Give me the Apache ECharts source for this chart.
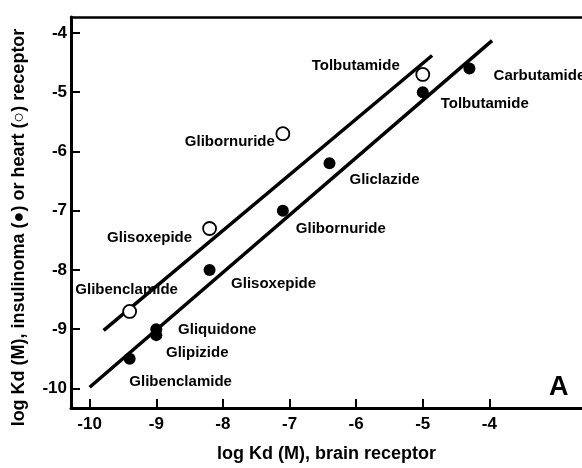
<!DOCTYPE html>
<html><head><meta charset="utf-8">
<script src="https://cdn.jsdelivr.net/npm/echarts@6/dist/echarts.min.js"></script>
<style>html,body{margin:0;padding:0;background:#fff}#c{width:582px;height:468px}</style>
</head><body><div id="c"></div>
<script>
// ---- data ----
const xTicks = [-10, -9, -8, -7, -6, -5, -4];
const yTicks = [-10, -9, -8, -7, -6, -5, -4];

const insulinomaNames = ['Glibenclamide', 'Gliquidone', 'Glipizide', 'Glisoxepide', 'Glibornuride', 'Gliclazide', 'Tolbutamide', 'Carbutamide'];
const insulinomaX = [-9.4, -9.0, -9.0, -8.2, -7.1, -6.4, -5.0, -4.3];
const insulinomaY = [-9.5, -9.0, -9.1, -8.0, -7.0, -6.2, -5.0, -4.6];

const heartNames = ['Glibenclamide', 'Glisoxepide', 'Glibornuride', 'Tolbutamide'];
const heartX = [-9.4, -8.2, -7.1, -5.0];
const heartY = [-8.7, -7.3, -5.7, -4.7];

const insulinomaFitX = [-10.0, -3.96];
const insulinomaFitY = [-9.98, -4.13];
const heartFitX = [-9.79, -4.86];
const heartFitY = [-9.02, -4.38];

// ---- label placement (style only) ----
const insulinomaLabelOffset = [[51, 23], [61, 1], [41, 18], [64, 14], [58, 18], [55, 17], [62, 12], [70, 7]];
const heartLabelOffset = [[-3, -22], [-60, 9], [-53, 8], [-67, -9]];

const FONT = 'Liberation Sans, Arial, Helvetica, sans-serif';
const chart = echarts.init(document.getElementById('c'), null, {renderer: 'canvas'});

function pts(names, xs, ys, offs) {
  return xs.map((x, i) => ({
    name: names[i],
    value: [x, ys[i]],
    label: {offset: offs[i]}
  }));
}
function line(xs, ys) { return xs.map((x, i) => [x, ys[i]]); }

const labelStyle = {
  show: true, position: 'inside', formatter: p => p.name,
  fontFamily: FONT, fontSize: 15, fontWeight: 'bold', color: '#000'
};

chart.setOption({
  animation: false,
  backgroundColor: '#fff',
  grid: {left: 71, right: 0, top: 17, bottom: 55},
  xAxis: [{
    type: 'value', min: -10.28, max: -2.61,
    axisLine: {show: true, lineStyle: {color: '#000', width: 3}},
    axisTick: {show: true, inside: true, length: 9, customValues: xTicks, lineStyle: {color: '#000', width: 2}},
    axisLabel: {customValues: xTicks, fontFamily: FONT, fontSize: 17, fontWeight: 'bold', color: '#000', margin: 8},
    splitLine: {show: false},
    name: 'log Kd (M), brain receptor', nameLocation: 'middle', nameGap: 37,
    nameTextStyle: {fontFamily: FONT, fontSize: 18, fontWeight: 'bold', color: '#000'}
  }, {
    type: 'value', position: 'top', min: -10.28, max: -2.61,
    axisLine: {show: true, lineStyle: {color: '#000', width: 2.5}},
    axisTick: {show: false}, axisLabel: {show: false}, splitLine: {show: false}
  }],
  yAxis: {
    type: 'value', min: -10.33, max: -3.73,
    axisLine: {show: true, lineStyle: {color: '#000', width: 3}},
    axisTick: {show: true, inside: true, length: 9, customValues: yTicks, lineStyle: {color: '#000', width: 2}},
    axisLabel: {customValues: yTicks, fontFamily: FONT, fontSize: 17, fontWeight: 'bold', color: '#000', margin: 4},
    splitLine: {show: false},
    name: 'log Kd (M), insulinoma (\u25CF) or heart (\u25CB) receptor', nameLocation: 'middle', nameGap: 43, nameRotate: 90,
    nameTextStyle: {fontFamily: FONT, fontSize: 18, fontWeight: 'bold', color: '#000', padding: [0, 30, 0, 0]}
  },
  series: [
    {type: 'line', data: line(heartFitX, heartFitY), symbol: 'none', lineStyle: {color: '#000', width: 3.5}, z: 2},
    {type: 'line', data: line(insulinomaFitX, insulinomaFitY), symbol: 'none', lineStyle: {color: '#000', width: 3.5}, z: 2},
    {type: 'scatter', data: pts(insulinomaNames, insulinomaX, insulinomaY, insulinomaLabelOffset),
     symbol: 'circle', symbolSize: 12, itemStyle: {color: '#000', opacity: 1}, label: labelStyle, z: 3},
    {type: 'scatter', data: pts(heartNames, heartX, heartY, heartLabelOffset),
     symbol: 'circle', symbolSize: 13, itemStyle: {color: '#fff', borderColor: '#000', borderWidth: 1.8, opacity: 1}, label: labelStyle, z: 4}
  ],
  graphic: [{
    type: 'text', left: 549, top: 374,
    style: {text: 'A', fontFamily: FONT, fontSize: 27, fontWeight: 'bold', fill: '#000'}
  }]
});
</script></body></html>
